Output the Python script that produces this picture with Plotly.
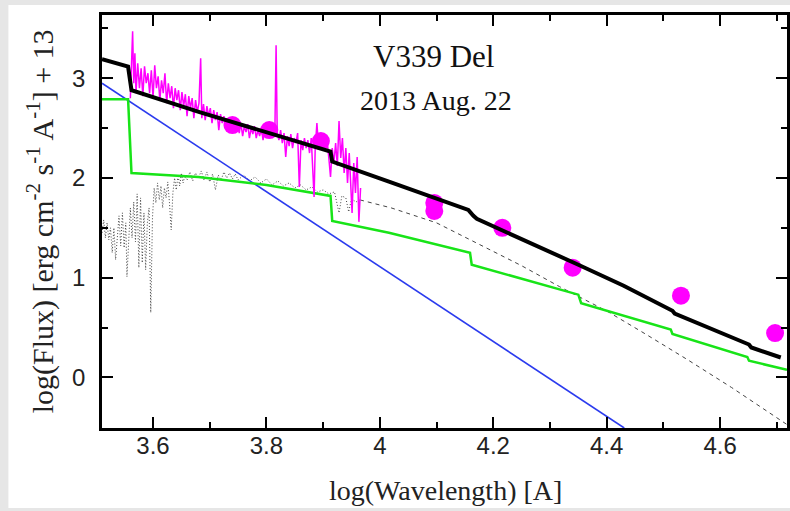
import plotly.graph_objects as go

# ---------------- data ----------------
# total model (black)
total_x = [3.51, 3.556, 3.562, 3.682, 3.913, 3.916, 4.016, 4.156, 4.165, 4.171, 4.35, 4.43, 4.516, 4.52, 4.651, 4.655, 4.707]
total_y = [3.19, 3.116, 2.88, 2.66, 2.265, 2.165, 1.963, 1.68, 1.62, 1.59, 1.13, 0.92, 0.668, 0.64, 0.33, 0.30, 0.20]

# second component (green)
green_x = [3.51, 3.556, 3.562, 3.68, 3.80, 3.913, 3.916, 4.016, 4.159, 4.162, 4.35, 4.355, 4.513, 4.516, 4.648, 4.651, 4.718]
green_y = [2.79, 2.79, 2.05, 2.01, 1.93, 1.82, 1.57, 1.45, 1.25, 1.13, 0.83, 0.745, 0.48, 0.435, 0.204, 0.167, 0.077]

# blackbody (blue)
blue_x = [3.51, 4.431]
blue_y = [2.95, -0.507]

# observed spectrum (magenta)
spec_x = [3.560, 3.562, 3.564, 3.566, 3.568, 3.570, 3.573, 3.576, 3.579, 3.582, 3.585, 3.588, 3.591, 3.594,
          3.597, 3.600, 3.603, 3.606, 3.609, 3.612, 3.615, 3.618, 3.621, 3.624, 3.627, 3.630, 3.633, 3.636,
          3.639, 3.642, 3.645, 3.648, 3.651, 3.654, 3.657, 3.660, 3.663, 3.666, 3.669, 3.672, 3.675, 3.678,
          3.681, 3.684, 3.686, 3.689, 3.692, 3.695, 3.698, 3.701, 3.704, 3.707, 3.710, 3.713, 3.716, 3.719,
          3.722, 3.725, 3.728, 3.731, 3.734, 3.737, 3.740, 3.743, 3.746, 3.749, 3.752, 3.755, 3.758, 3.761,
          3.764, 3.767, 3.770, 3.773, 3.776, 3.779, 3.782, 3.785, 3.788, 3.791, 3.794, 3.797, 3.800, 3.803,
          3.806, 3.809, 3.812, 3.815, 3.817, 3.819, 3.822, 3.825, 3.828, 3.831, 3.834, 3.837, 3.840, 3.843,
          3.846, 3.849, 3.852, 3.855, 3.858, 3.861, 3.864, 3.867, 3.870, 3.873, 3.876, 3.879, 3.882, 3.884,
          3.886, 3.889, 3.892, 3.895, 3.898, 3.901, 3.904, 3.907, 3.910, 3.913, 3.916, 3.919, 3.922, 3.925,
          3.928, 3.931, 3.934, 3.937, 3.940, 3.943, 3.946, 3.949, 3.951, 3.954, 3.957, 3.960, 3.963, 3.966]
spec_y = [2.80, 3.30, 3.47, 2.95, 3.25, 2.85, 3.15, 2.90, 3.10, 2.82, 3.12, 2.95, 3.05, 2.85,
          3.08, 2.80, 3.13, 2.90, 3.02, 2.78, 2.98, 2.85, 3.05, 2.75, 2.95, 2.80, 2.92, 2.70,
          2.90, 2.78, 2.88, 2.68, 2.86, 2.72, 2.84, 2.62, 2.82, 2.70, 2.80, 2.60, 2.78, 2.66,
          2.75, 3.20, 2.60, 2.74, 2.58, 2.72, 2.62, 2.70, 2.55, 2.68, 2.58, 2.66, 2.48, 2.64,
          2.55, 2.62, 2.50, 2.60, 2.48, 2.58, 2.45, 2.56, 2.50, 2.58, 2.45, 2.55, 2.42, 2.52,
          2.46, 2.54, 2.40, 2.50, 2.44, 2.52, 2.40, 2.48, 2.42, 2.50, 2.38, 2.48, 2.42, 2.50,
          2.40, 2.48, 2.44, 2.52, 3.33, 2.45, 2.38, 2.48, 2.35, 2.45, 2.21, 2.42, 2.32, 2.44,
          2.30, 2.40, 2.35, 2.45, 1.91, 2.38, 2.28, 2.40, 2.30, 2.38, 2.25, 2.40, 2.10, 1.81,
          2.30, 2.55, 2.30, 2.40, 2.32, 2.42, 2.28, 2.38, 2.20, 2.01, 2.30, 2.15, 2.35, 2.12,
          2.57, 2.20, 2.40, 2.05, 2.30, 1.95, 2.25, 1.90, 1.65, 2.15, 1.85, 2.21, 1.56, 1.90]

# photometry (magenta dots)
phot_x = [3.740, 3.805, 3.896, 4.096, 4.096, 4.216, 4.340, 4.531, 4.697]
phot_y = [2.53, 2.48, 2.37, 1.75, 1.67, 1.50, 1.10, 0.82, 0.445]

# comparison stellar spectrum (dotted)
star_x = [3.510, 3.513, 3.516, 3.519, 3.522, 3.525, 3.528, 3.531, 3.534, 3.537, 3.540, 3.543, 3.546, 3.549,
          3.552, 3.554, 3.557, 3.560, 3.563, 3.566, 3.569, 3.572, 3.575, 3.578, 3.581, 3.584, 3.587, 3.590,
          3.593, 3.596, 3.599, 3.602, 3.605, 3.608, 3.611, 3.614, 3.617, 3.620, 3.623, 3.626, 3.629, 3.632,
          3.635, 3.638, 3.641, 3.644, 3.647, 3.650, 3.653, 3.656, 3.660, 3.665, 3.670, 3.675, 3.680, 3.685,
          3.690, 3.695, 3.700, 3.705, 3.710, 3.715, 3.720, 3.725, 3.730, 3.735, 3.740, 3.745, 3.750, 3.760,
          3.770, 3.780, 3.790, 3.800, 3.810, 3.820, 3.830, 3.840, 3.850, 3.860, 3.870, 3.880, 3.890, 3.900,
          3.910, 3.920, 3.928, 3.933, 3.940, 3.945, 3.950, 3.958, 3.965]
star_y = [1.45, 1.58, 1.40, 1.55, 1.38, 1.50, 1.25, 1.50, 1.18, 1.45, 1.62, 1.32, 1.65, 1.30,
          1.55, 1.01, 1.45, 1.70, 1.40, 1.76, 1.36, 1.84, 1.10, 1.80, 1.15, 1.65, 1.08, 1.55,
          1.70, 0.65, 1.60, 1.90, 1.75, 1.95, 1.78, 1.92, 1.70, 1.90, 1.80, 1.96, 1.75, 1.48,
          1.85, 2.00, 1.88, 2.03, 1.92, 2.05, 1.95, 2.02, 1.98, 2.06, 1.97, 2.05, 2.00, 2.07,
          1.98, 2.06, 1.96, 2.04, 1.88, 2.03, 1.98, 2.06, 2.00, 2.05, 1.99, 2.04, 1.98, 2.03,
          1.97, 2.01, 1.95, 1.99, 1.93, 1.97, 1.92, 1.95, 1.90, 1.93, 1.88, 1.91, 1.86, 1.88,
          1.84, 1.86, 1.65, 1.82, 1.80, 1.66, 1.79, 1.76, 1.78]
# smooth continuation of the stellar model
cont_x = [3.965, 4.02, 4.10, 4.19, 4.25, 4.317, 4.402, 4.47, 4.542, 4.62, 4.70, 4.72]
cont_y = [1.78, 1.70, 1.55, 1.29, 1.12, 0.91, 0.66, 0.43, 0.18, -0.10, -0.41, -0.48]

x_ticks = [3.6, 3.8, 4.0, 4.2, 4.4, 4.6]
x_ticktext = ["3.6", "3.8", "4", "4.2", "4.4", "4.6"]
x_minor = [3.7, 3.9, 4.1, 4.3, 4.5, 4.7]
y_ticks = [0, 1, 2, 3]
y_ticktext = ["0", "1", "2", "3"]
y_minor = [0.5, 1.5, 2.5, 3.5]

# ---------------- figure ----------------
W, H = 790, 511
L, R, T, B = 102, 0, 15, 83
PW, PH = W - L - R, H - T - B


def px(x):
    return (x - L) / PW


def py(y):
    return (H - B - y) / PH


fig = go.Figure()

fig.add_trace(go.Scatter(x=star_x, y=star_y, mode="lines",
                         line=dict(color="#444444", width=1, dash="1px,2px"), hoverinfo="skip"))
fig.add_trace(go.Scatter(x=cont_x, y=cont_y, mode="lines",
                         line=dict(color="#444444", width=1, dash="4px,4px"), hoverinfo="skip"))
fig.add_trace(go.Scatter(x=blue_x, y=blue_y, mode="lines",
                         line=dict(color="#2b3bee", width=1.6)))
fig.add_trace(go.Scatter(x=green_x, y=green_y, mode="lines",
                         line=dict(color="#18e418", width=2.5)))
fig.add_trace(go.Scatter(x=spec_x, y=spec_y, mode="lines",
                         line=dict(color="#ff00ff", width=1.5)))
fig.add_trace(go.Scatter(x=phot_x, y=phot_y, mode="markers",
                         marker=dict(color="#ff00ff", size=18, line=dict(width=0))))
fig.add_trace(go.Scatter(x=total_x, y=total_y, mode="lines",
                         line=dict(color="black", width=4)))

axis_common = dict(
    showgrid=False, zeroline=False, showline=True, linecolor="black", linewidth=2.5,
    mirror="ticks", ticks="inside", ticklen=11, tickwidth=1.5, tickcolor="black",
    tickfont=dict(family="Liberation Sans, Arial, sans-serif", size=24, color="#222222"),
)

fig.update_xaxes(range=[3.51, 4.718], tickvals=x_ticks, ticktext=x_ticktext,
                 minor=dict(tickvals=x_minor, ticks="inside", ticklen=6, tickwidth=1.5, tickcolor="black"),
                 ticklabelstandoff=-6, **axis_common)
fig.update_yaxes(range=[-0.507, 3.634], tickvals=y_ticks, ticktext=y_ticktext,
                 minor=dict(tickvals=y_minor, ticks="inside", ticklen=6, tickwidth=1.5, tickcolor="black"),
                 ticklabelstandoff=9, **axis_common)

serif = "Liberation Serif, Times New Roman, serif"
fig.add_annotation(x=px(447), y=py(490), xref="paper", yref="paper", showarrow=False,
                   text="log(Wavelength) [A]", font=dict(family=serif, size=28, color="#222222"),
                   xanchor="center", yanchor="middle")
fig.add_annotation(x=px(40), y=py(221), xref="paper", yref="paper", showarrow=False, textangle=-90,
                   text="log(Flux) [erg cm<sup>-2</sup> s<sup>-1</sup> A<sup>-1</sup>] + 13",
                   font=dict(family=serif, size=30, color="#222222"),
                   xanchor="center", yanchor="middle")
fig.add_annotation(x=px(435), y=py(56), xref="paper", yref="paper", showarrow=False,
                   text="V339 Del", font=dict(family=serif, size=31, color="#111111"),
                   xanchor="center", yanchor="middle")
fig.add_annotation(x=px(437), y=py(101), xref="paper", yref="paper", showarrow=False,
                   text="2013 Aug. 22", font=dict(family=serif, size=28, color="#111111"),
                   xanchor="center", yanchor="middle")

# white panel on light-gray page
fig.add_shape(type="rect", xref="paper", yref="paper", layer="below",
              x0=px(8), x1=px(W + 5), y0=py(508), y1=py(5),
              fillcolor="white", line=dict(width=0))

fig.update_layout(
    width=W, height=H, margin=dict(l=L, r=R, t=T, b=B, pad=0),
    paper_bgcolor="#e6e6e6", plot_bgcolor="white", showlegend=False,
)

fig.write_html("out.html")
